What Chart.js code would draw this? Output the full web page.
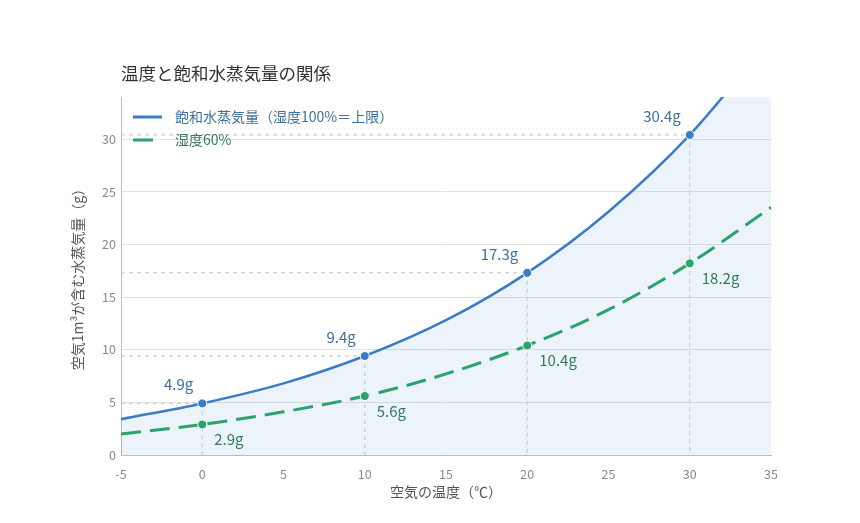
<!DOCTYPE html>
<html>
<head>
<meta charset="utf-8">
<script src="https://cdn.jsdelivr.net/npm/chart.js@4.4.1/dist/chart.umd.min.js"></script>
<style>
    html, body { margin: 0; padding: 0; background: #fff; }
    #wrap { width: 860px; height: 523px; position: relative; }
</style>
</head>
<body>
<div id="wrap"><canvas id="vaporChart"></canvas></div>
<script>
// 気温 (°C)
var temps = [-5, 0, 5, 10, 15, 20, 25, 30, 35];
// 飽和水蒸気量 (g/m3)
var saturated = [3.4, 4.9, 6.8, 9.4, 12.8, 17.3, 23.1, 30.4, 39.6];
// 湿度60%
var humid60 = [2.0, 2.9, 4.1, 5.6, 7.7, 10.4, 13.8, 18.2, 23.5];
// 点とラベルを付ける温度
var markedTemps = [0, 10, 20, 30];
var yTicks = [0, 5, 10, 15, 20, 25, 30];
var xTicks = [-5, 0, 5, 10, 15, 20, 25, 30, 35];

var titleText = '温度と飽和水蒸気量の関係';
var seriesNames = ['飽和水蒸気量（湿度100%＝上限）', '湿度60%'];
var xTitle = '空気の温度（℃）';
var yTitle = '空気1m³が含む水蒸気量（g）';

var FONT = '"Noto Sans CJK JP", "Noto Sans", sans-serif';
var BLUE = '#3a7cc6';
var GREEN = '#2ba36c';
var BLUE_TEXT = '#3f6f9f';
var GREEN_TEXT = '#2f7b5b';

function toPoints(vals) {
    var pts = [];
    for (let i = 0; i < temps.length; i++) {
        pts.push({ x: temps[i], y: vals[i] });
    }
    return pts;
}

function radii(r) {
    return temps.map(function (t) { return markedTemps.indexOf(t) >= 0 ? r : 0; });
}

var extras = {
    id: 'extras',
    beforeDatasetsDraw: function (chart) {
        var ctx = chart.ctx;
        var xs = chart.scales.x, ys = chart.scales.y;
        var area = chart.chartArea;
        ctx.save();
        ctx.strokeStyle = '#c4c4c4';
        ctx.lineWidth = 1;
        ctx.setLineDash([4, 4]);
        for (let i = 0; i < temps.length; i++) {
            if (markedTemps.indexOf(temps[i]) < 0) continue;
            var px = xs.getPixelForValue(temps[i]);
            var py = ys.getPixelForValue(saturated[i]);
            ctx.beginPath();
            ctx.moveTo(area.left, py);
            ctx.lineTo(px, py);
            ctx.moveTo(px, py);
            ctx.lineTo(px, area.bottom);
            ctx.stroke();
        }
        ctx.restore();
    },
    afterDatasetsDraw: function (chart) {
        var ctx = chart.ctx;
        var xs = chart.scales.x, ys = chart.scales.y;
        var area = chart.chartArea;
        ctx.save();
        ctx.font = '15px ' + FONT;
        for (let i = 0; i < temps.length; i++) {
            if (markedTemps.indexOf(temps[i]) < 0) continue;
            var px = xs.getPixelForValue(temps[i]);
            var py = ys.getPixelForValue(saturated[i]);
            ctx.fillStyle = BLUE_TEXT;
            ctx.textAlign = 'right';
            ctx.textBaseline = 'middle';
            ctx.fillText(saturated[i].toFixed(1) + 'g', px - 9, py - 19);
            var gy = ys.getPixelForValue(humid60[i]);
            ctx.fillStyle = GREEN_TEXT;
            ctx.textAlign = 'left';
            ctx.fillText(humid60[i].toFixed(1) + 'g', px + 12, gy + 15);
        }

        // 凡例
        var lx = area.left + 12;
        var rows = [
            { y: area.top + 20, color: BLUE, text: BLUE_TEXT, dash: [] },
            { y: area.top + 43, color: GREEN, text: GREEN_TEXT, dash: [20, 9] }
        ];
        ctx.font = '14px ' + FONT;
        rows.forEach(function (r, k) {
            ctx.strokeStyle = r.color;
            ctx.lineWidth = 3;
            ctx.setLineDash(r.dash);
            ctx.beginPath();
            ctx.moveTo(lx, r.y);
            ctx.lineTo(lx + 29, r.y);
            ctx.stroke();
            ctx.setLineDash([]);
            ctx.fillStyle = r.text;
            ctx.textAlign = 'left';
            ctx.textBaseline = 'middle';
            ctx.fillText(seriesNames[k], lx + 42, r.y);
        });

        // タイトル
        ctx.fillStyle = '#333333';
        ctx.font = '17.5px ' + FONT;
        ctx.textAlign = 'left';
        ctx.textBaseline = 'middle';
        ctx.fillText(titleText, area.left, 73);
        ctx.restore();
    }
};

var chart = new Chart(document.getElementById('vaporChart'), {
    type: 'line',
    data: {
        datasets: [
            {
                label: seriesNames[0],
                data: toPoints(saturated),
                borderColor: BLUE,
                backgroundColor: 'rgba(58, 124, 198, 0.09)',
                pointBackgroundColor: BLUE,
                pointBorderColor: '#ffffff',
                pointBorderWidth: 1,
                pointRadius: radii(4.5),
                borderWidth: 2.5,
                cubicInterpolationMode: 'monotone',
                fill: 'origin'
            },
            {
                label: seriesNames[1],
                data: toPoints(humid60),
                borderColor: GREEN,
                pointBackgroundColor: GREEN,
                pointBorderColor: '#ffffff',
                pointBorderWidth: 1,
                pointRadius: radii(4.5),
                borderWidth: 3,
                borderDash: [20, 9],
                cubicInterpolationMode: 'monotone',
                fill: false
            }
        ]
    },
    options: {
        responsive: true,
        maintainAspectRatio: false,
        animation: false,
        layout: {
            padding: { left: 65, right: 89, top: 97, bottom: 13 }
        },
        scales: {
            x: {
                type: 'linear',
                min: -5,
                max: 35,
                afterBuildTicks: function (scale) {
                    scale.ticks = xTicks.map(function (v) { return { value: v }; });
                },
                afterFit: function (scale) { scale.height = 55; },
                grid: { display: false },
                border: { color: '#bdbdbd' },
                ticks: { color: '#8a8a8a', font: { family: FONT, size: 12.5 }, padding: 4 },
                title: {
                    display: true,
                    text: xTitle,
                    color: '#555555',
                    font: { family: FONT, size: 14 },
                    padding: { top: 4, bottom: 10 }
                }
            },
            y: {
                min: 0,
                max: 34,
                afterBuildTicks: function (scale) {
                    scale.ticks = yTicks.map(function (v) { return { value: v }; });
                },
                afterFit: function (scale) { scale.width = 56; },
                grid: { color: '#e2e2e2', drawTicks: false },
                border: { color: '#bdbdbd' },
                ticks: { color: '#8a8a8a', font: { family: FONT, size: 12.5 }, padding: 5 },
                title: {
                    display: true,
                    text: yTitle,
                    color: '#555555',
                    font: { family: FONT, size: 14 },
                    padding: 4
                }
            }
        },
        plugins: {
            legend: { display: false },
            tooltip: { enabled: false },
            filler: { drawTime: 'beforeDatasetsDraw' }
        }
    },
    plugins: [extras]
});
</script>
</body>
</html>
